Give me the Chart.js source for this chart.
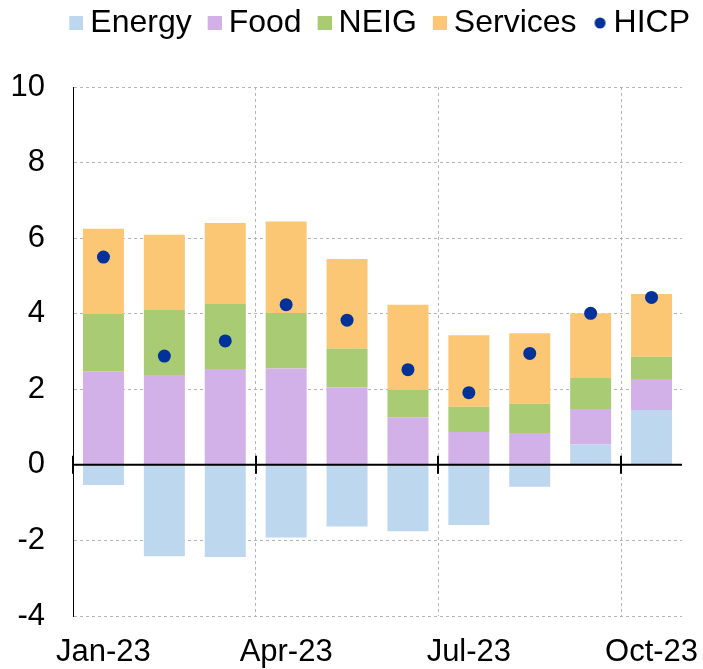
<!DOCTYPE html>
<html>
<head>
<meta charset="utf-8">
<script src="https://cdn.jsdelivr.net/npm/chart.js@4/dist/chart.umd.min.js"></script>
<style>
  html, body { margin: 0; padding: 0; background: #fff; }
</style>
</head>
<body>
<canvas id="chart" width="703" height="669"></canvas>
<script>
// monthly contributions, percentage points
const months = ['Jan-23', 'Feb-23', 'Mar-23', 'Apr-23', 'May-23', 'Jun-23', 'Jul-23', 'Aug-23', 'Sep-23', 'Oct-23'];
const energy   = [-0.53, -2.42, -2.44, -1.92, -1.63, -1.76, -1.59, -0.58, 0.54, 1.45];
const food     = [2.48, 2.38, 2.54, 2.55, 2.05, 1.26, 0.87, 0.84, 0.94, 0.82];
const neig     = [1.51, 1.72, 1.72, 1.47, 1.03, 0.72, 0.67, 0.78, 0.82, 0.59];
const services = [2.26, 1.99, 2.14, 2.42, 2.37, 2.26, 1.89, 1.86, 1.71, 1.66];
const hicp     = [5.50, 2.88, 3.28, 4.24, 3.83, 2.52, 1.91, 2.95, 4.01, 4.43];
const yTicks = [-4, -2, 0, 2, 4, 6, 8, 10];

const FONT = '"Liberation Sans", Arial, sans-serif';
const gridGrey = '#b4b4b4';
const colors = { Energy: '#bdd7ee', Food: '#d1b1e8', NEIG: '#a9cb73', Services: '#fcc775', HICP: '#003299' };

// legend markers: square (or dot) sitting at the right of a wider transparent canvas
// so it ends up closer to its text
function marker(color, round) {
  const c = document.createElement('canvas');
  c.width = 32; c.height = 14;
  const m = c.getContext('2d');
  m.fillStyle = color;
  if (round) {
    m.beginPath(); m.arc(25.5, 7, 5.5, 0, Math.PI * 2); m.fill();
  } else {
    m.fillRect(18, 0, 14, 14);
  }
  return c;
}

const legendHeight = {
  id: 'legendHeight',
  beforeInit(chart) {
    if (!chart.legend) return;
    const fit = chart.legend.fit;
    chart.legend.fit = function() {
      fit.call(this);
      this.height = 87;
    };
  }
};

// zero line with the small crosses every 3 months
const zeroAxis = {
  id: 'zeroAxis',
  afterDatasetsDraw(chart) {
    const ctx = chart.ctx;
    const x = chart.scales.x, y = chart.scales.y;
    const y0 = y.getPixelForValue(0);
    const step = x.getPixelForTick(1) - x.getPixelForTick(0);
    ctx.save();
    ctx.strokeStyle = '#000';
    ctx.lineWidth = 2;
    ctx.beginPath();
    ctx.moveTo(chart.chartArea.left, y0);
    ctx.lineTo(chart.chartArea.right, y0);
    for (let i = 0; i < months.length; i += 3) {
      const px = Math.round(x.getPixelForTick(i) - step / 2);
      ctx.moveTo(px, y0 - 9);
      ctx.lineTo(px, y0 + 9);
    }
    ctx.stroke();
    ctx.restore();
  }
};

const ctx = document.getElementById('chart').getContext('2d');
const chart = new Chart(ctx, {
  type: 'bar',
  data: {
    labels: months,
    datasets: [
      { label: 'Energy', data: energy, backgroundColor: colors.Energy, stack: 'c' },
      { label: 'Food', data: food, backgroundColor: colors.Food, stack: 'c' },
      { label: 'NEIG', data: neig, backgroundColor: colors.NEIG, stack: 'c' },
      { label: 'Services', data: services, backgroundColor: colors.Services, stack: 'c' },
      {
        type: 'line', label: 'HICP', data: hicp, stack: 'h', order: -1,
        showLine: false, pointRadius: 6.5, pointHoverRadius: 6.5,
        backgroundColor: colors.HICP, borderColor: colors.HICP, pointBorderWidth: 0
      }
    ]
  },
  options: {
    responsive: false,
    animation: false,
    layout: { padding: { left: 0, right: 6, top: 0, bottom: 0 } },
    datasets: {
      bar: { barPercentage: 0.673, categoryPercentage: 1, borderWidth: 0 }
    },
    plugins: {
      tooltip: { enabled: false },
      legend: {
        position: 'top',
        align: 'end',
        labels: {
          color: '#000',
          font: { family: FONT, size: 32 },
          usePointStyle: true,
          pointStyleWidth: 14,
          boxWidth: 14,
          boxHeight: 14,
          padding: 7,
          generateLabels(chart) {
            const items = Chart.defaults.plugins.legend.labels.generateLabels(chart);
            items.sort((a, b) => a.datasetIndex - b.datasetIndex);
            items.forEach(it => {
              it.pointStyle = marker(colors[it.text], it.text === 'HICP');
              it.lineWidth = 0;
            });
            return items;
          }
        }
      }
    },
    scales: {
      x: {
        stacked: true,
        offset: true,
        grid: {
          offset: true,
          drawTicks: false,
          color: c => (c.index % 3 === 0 ? gridGrey : 'rgba(0,0,0,0)'),
          lineWidth: 1
        },
        border: { display: false, dash: [3, 3] },
        ticks: {
          autoSkip: false,
          maxRotation: 0,
          padding: 18,
          color: '#000',
          font: { family: FONT, size: 31 },
          callback: function(v, i) { return i % 3 === 0 ? this.getLabelForValue(v) : ''; }
        },
        afterFit(s) {
          s.height = 53;
          s.paddingLeft = 0;
          s.paddingRight = 21;
        }
      },
      y: {
        stacked: true,
        min: yTicks[0],
        max: yTicks[yTicks.length - 1],
        grid: {
          drawTicks: false,
          color: c => (c.tick && c.tick.value === 0 ? '#000' : gridGrey),
          lineWidth: 1
        },
        border: {
          display: true, color: '#000', width: 1,
          dash: c => (c.tick && c.tick.value === 0 ? [] : [3, 3])
        },
        ticks: {
          stepSize: 2,
          padding: 28,
          color: '#000',
          font: { family: FONT, size: 31 }
        },
        afterBuildTicks(s) { s.ticks = yTicks.map(v => ({ value: v })); },
        afterFit(s) { s.width = 73; }
      }
    }
  },
  plugins: [legendHeight, zeroAxis]
});
</script>
</body>
</html>
